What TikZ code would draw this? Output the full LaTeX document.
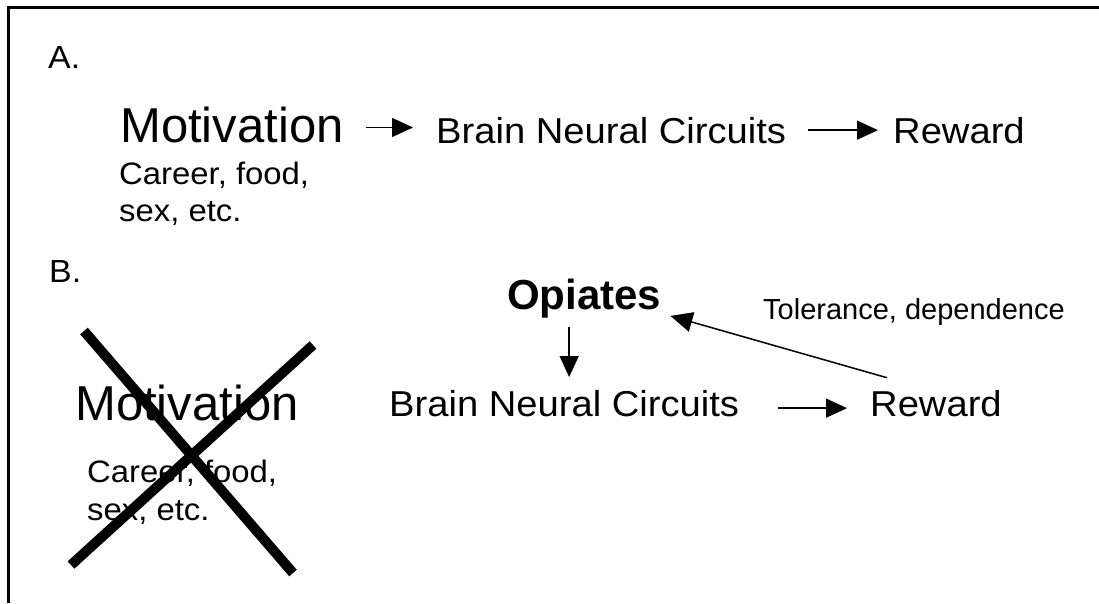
\documentclass[tikz,border=0pt]{standalone}
\usepackage{fontspec}
\setmainfont{Liberation Sans}
\newfontfamily\wideface[FakeStretch=1.06]{Liberation Sans}
\usetikzlibrary{arrows.meta, positioning}

\tikzset{
  txt/.style={inner sep=0pt, anchor=base west},
  huge/.style={txt, font=\fontsize{49}{58}\selectfont},
  mid/.style={txt, font=\wideface\fontsize{36}{42}\selectfont},
  sub/.style={txt, font=\wideface\fontsize{31}{36}\selectfont},
  tag/.style={txt, font=\wideface\fontsize{32}{36}\selectfont},
  note/.style={txt, font=\fontsize{29}{34}\selectfont},
  arr/.style={-{Triangle[length=21pt,width=19pt]}, line width=1.5pt},
}

\begin{document}
\begin{tikzpicture}[x=1pt, y=-1pt]
    \useasboundingbox (0,0) rectangle (1099,603);

    % Cornice
    \draw[line width=2.5pt] (8.5,603) -- (8.5,7.5) -- (1099,7.5);

    % Parte A
    \node[tag] (labA) at (48,68) {A.};
    \node[huge] (motA) at (120,142) {Motivation};
    \node[sub] (carA) at (119,184) {Career, food,};
    \node[sub] (sexA) at (119,221) {sex, etc.};
    \node[mid] (brainA) at (436,143) {Brain Neural Circuits};
    \node[mid] (rewA) at (893,143) {Reward};

    \coordinate (a1) at ([xshift=22pt,yshift=-3pt]motA.east);
    \draw[arr] (a1) -- ([xshift=-23pt]brainA.west |- a1);
    \draw[arr] ([xshift=22pt]brainA.east) -- ([xshift=-15pt]rewA.west);

    % Parte B
    \node[tag] (labB) at (49,282) {B.};
    \node[huge] (motB) at (75,420) {Motivation};
    \node[sub] (carB) at (87,482) {Career, food,};
    \node[sub] (sexB) at (87,520) {sex, etc.};
    \node[txt, font=\bfseries\fontsize{42}{50}\selectfont] (opi) at (507,309) {Opiates};
    \node[mid] (brainB) at (389,416) {Brain Neural Circuits};
    \node[mid] (rewB) at (870,416) {Reward};
    \node[note] (tol) at (763,319) {Tolerance, dependence};

    \draw[arr] ([xshift=5pt,yshift=-9pt]opi.south -| brainB.north) -- ([xshift=5pt,yshift=12.7pt]brainB.north);
    \draw[arr] ([xshift=39pt,yshift=-5pt]brainB.east) -- ([xshift=-23pt,yshift=-5pt]rewB.west);
    \draw[-{Triangle[length=22pt,width=20pt]}, line width=1.5pt]
        ([xshift=17pt,yshift=12pt]rewB.north west) -- ([xshift=9pt,yshift=2pt]opi.south east);

    % Croce
    \draw[line width=10pt] (84,331) -- (293,573);
    \draw[line width=10pt] (313,345) -- (71,565);
\end{tikzpicture}
\end{document}
